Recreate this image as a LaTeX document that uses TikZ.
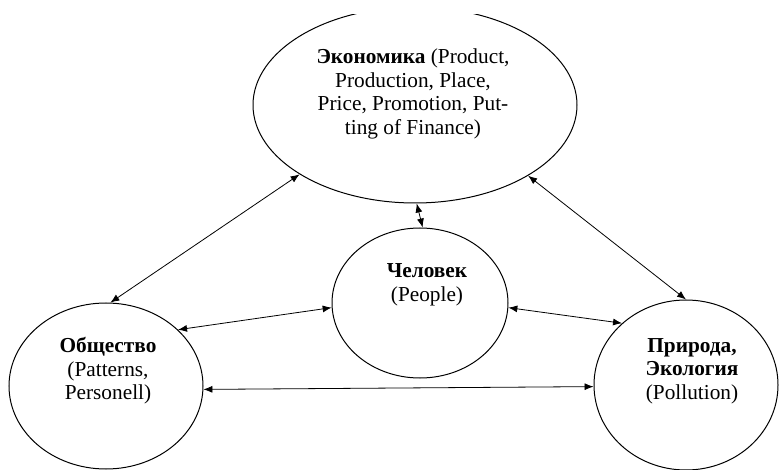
\documentclass[tikz,border=0pt]{standalone}
\usepackage{fontspec}
\setmainfont{Liberation Serif}
\usetikzlibrary{shapes.geometric,arrows.meta}

\begin{document}
\begin{tikzpicture}[x=1pt,y=-1pt,
		sphere/.style={draw,ellipse,line width=1pt,inner sep=0pt},
		caption/.style={align=center,font=\fontsize{21.3}{23.5}\selectfont,inner sep=0pt},
		link/.style={<->,>={Latex[length=9pt,width=7pt]},line width=0.8pt}]
		\useasboundingbox (0,0) rectangle (779,470);
		\clip (0,15) rectangle (779,470);
		\node[sphere,minimum width=324pt,minimum height=196pt] (econ) at (415,105) {};
		\node[sphere,minimum width=176pt,minimum height=150pt] (man) at (420,303) {};
		\node[sphere,minimum width=194pt,minimum height=166pt] (soc) at (106,386) {};
		\node[sphere,minimum width=184pt,minimum height=170pt] (nat) at (686,385) {};
		\node[caption] (econtext) at (413,94) {\textbf{Экономика} (Product,\\Production, Place,\\Price, Promotion, Put-\\ting of Finance)};
		\node[caption] (mantext) at (427,285) {\textbf{Человек}\\(People)};
		\node[caption] (soctext) at (108,371) {\textbf{Общество}\\(Patterns,\\Personell)};
		\node[caption] (nattext) at (692,371) {\textbf{Природа,}\\\textbf{Экология}\\(Pollution)};
		\foreach \a/\b in {econ.211/soc.87, econ.328/nat.90, econ.271/man.88,
			soc.38/man.183, man.357/nat.136, soc.358/nat.181}
			\draw[link] (\a) -- (\b);
	\end{tikzpicture}
\end{document}
